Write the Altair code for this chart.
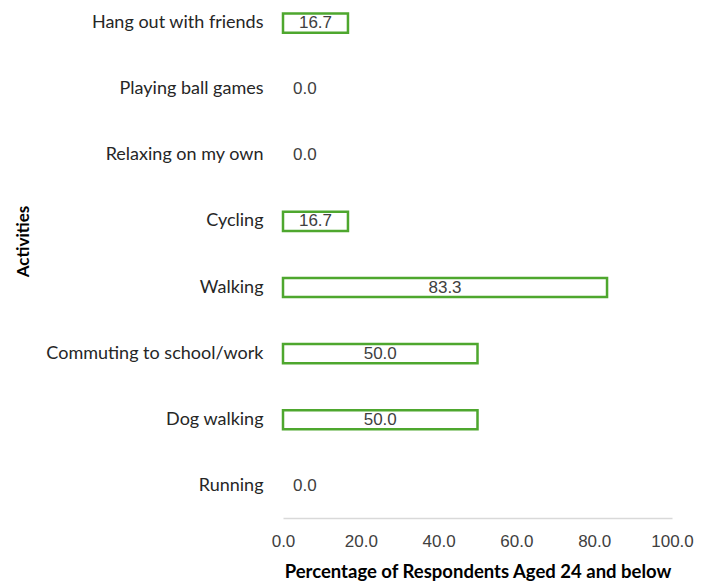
import altair as alt
import pandas as pd

activities = ["Hang out with friends", "Playing ball games", "Relaxing on my own", "Cycling",
              "Walking", "Commuting to school/work", "Dog walking", "Running"]
percentages = [16.7, 0.0, 0.0, 16.7, 83.3, 50.0, 50.0, 0.0]

df = pd.DataFrame({"Activity": activities, "Pct": percentages})

y_scale = alt.Scale(domain=activities, paddingInner=0.71, paddingOuter=0.2125, align=0.196)
y_enc = alt.Y("Activity:N", scale=y_scale,
              axis=alt.Axis(title="Activities", domain=False, ticks=False, grid=False,
                            labelFont="Lato", labelFontSize=18, labelColor="#262626",
                            labelPadding=20, labelLimit=0, titleFont="Lato", titleFontSize=17,
                            titleFontWeight="bold", titleColor="#000000",
                            titleX=-260, titleY=233, titleBaseline="middle", titleAngle=270))

x_scale = alt.Scale(domain=[0, 100], nice=False)

bars = alt.Chart(df).transform_filter("datum.Pct > 0").mark_bar(
    fill="white", stroke="#4EA72E", strokeWidth=2.5).encode(
    x=alt.X("Pct:Q", scale=x_scale,
            axis=alt.Axis(title="Percentage of Respondents Aged 24 and below",
                          values=[0, 20, 40, 60, 80, 100], format=".1f",
                          grid=False, ticks=False, domain=True, domainColor="#d9d9d9",
                          domainWidth=1.5, labelFont="Liberation Sans", labelFontSize=17,
                          labelColor="#404040", labelPadding=15, labelFlush=False,
                          titleFont="Lato", titleFontSize=18.5, titleFontWeight="bold",
                          titleColor="#000000", titlePadding=13)),
    y=y_enc,
)

labels_nz = alt.Chart(df).transform_filter("datum.Pct > 0").transform_calculate(
    mid="datum.Pct / 2"
).mark_text(font="Liberation Sans", fontSize=17, color="#404040", align="center",
            baseline="middle").encode(
    x=alt.X("mid:Q", scale=x_scale),
    y=alt.Y("Activity:N", scale=y_scale),
    text=alt.Text("Pct:Q", format=".1f"),
)

labels_z = alt.Chart(df).transform_filter("datum.Pct <= 0").mark_text(
    font="Liberation Sans", fontSize=17, color="#404040", align="left",
    baseline="middle", dx=10).encode(
    x=alt.X("Pct:Q", scale=x_scale),
    y=alt.Y("Activity:N", scale=y_scale),
    text=alt.Text("Pct:Q", format=".1f"),
)

chart = alt.layer(bars, labels_nz, labels_z).properties(
    width=389, height=510,
    autosize=alt.AutoSizeParams(type="none"),
    padding={"left": 275, "top": 0, "right": 23, "bottom": 66},
).configure_view(stroke=None)

chart.save("out.html", embed_options={"renderer": "svg", "actions": False})
